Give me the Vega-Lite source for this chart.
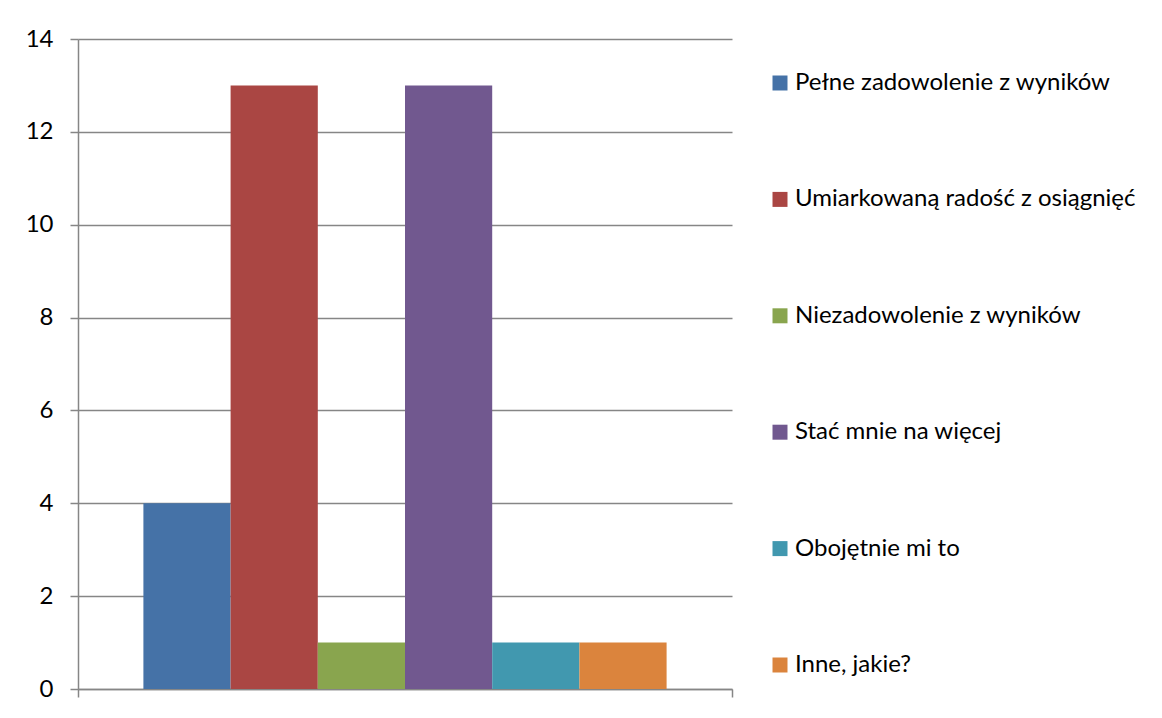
{
  "$schema": "https://vega.github.io/schema/vega-lite/v6.json",
  "autosize": {"type": "none"},
  "width": 654,
  "height": 650,
  "padding": {"left": 78, "top": 39, "right": 430, "bottom": 29},
  "background": "white",
  "config": {
    "view": {"stroke": null},
    "font": "Lato",
    "axis": {"labelFont": "Lato", "labelColor": "#000000"}
  },
  "data": {
    "values": [
      {"cat": "A", "series": "Pełne zadowolenie z wyników", "value": 4},
      {"cat": "A", "series": "Umiarkowaną radość z osiągnięć", "value": 13},
      {"cat": "A", "series": "Niezadowolenie z wyników", "value": 1},
      {"cat": "A", "series": "Stać mnie na więcej", "value": 13},
      {"cat": "A", "series": "Obojętnie mi to", "value": 1},
      {"cat": "A", "series": "Inne, jakie?", "value": 1}
    ]
  },
  "mark": {"type": "bar"},
  "encoding": {
    "x": {
      "field": "cat",
      "type": "nominal",
      "scale": {"paddingInner": 0, "paddingOuter": 0},
      "axis": {
        "title": null,
        "labels": false,
        "tickBand": "extent",
        "domainColor": "#868686",
        "domainWidth": 1.5,
        "tickColor": "#868686",
        "tickWidth": 1.5,
        "tickSize": 8
      }
    },
    "xOffset": {
      "field": "series",
      "type": "nominal",
      "sort": null,
      "scale": {"paddingInner": 0, "paddingOuter": 0.75}
    },
    "y": {
      "field": "value",
      "type": "quantitative",
      "scale": {"domain": [0, 14], "nice": false},
      "axis": {
        "title": null,
        "values": [0, 2, 4, 6, 8, 10, 12, 14],
        "grid": true,
        "gridColor": "#868686",
        "gridWidth": 1.5,
        "domainColor": "#868686",
        "domainWidth": 1.5,
        "tickColor": "#868686",
        "tickWidth": 1.5,
        "tickSize": 8,
        "labelFontSize": 24,
        "labelPadding": 17
      }
    },
    "color": {
      "field": "series",
      "type": "nominal",
      "sort": null,
      "scale": {
        "domain": ["Pełne zadowolenie z wyników", "Umiarkowaną radość z osiągnięć", "Niezadowolenie z wyników", "Stać mnie na więcej", "Obojętnie mi to", "Inne, jakie?"],
        "range": ["#4572A7", "#AA4643", "#89A54E", "#71588F", "#4198AF", "#DB843D"]
      },
      "legend": {
        "title": null,
        "orient": "none",
        "legendX": 690,
        "legendY": 32,
        "padding": 0,
        "symbolType": "square",
        "symbolSize": 225,
        "symbolStrokeWidth": 0,
        "symbolOpacity": 1,
        "labelFontSize": 24,
        "labelFont": "Lato",
        "labelColor": "#000000",
        "labelOffset": 3,
        "labelLimit": 400,
        "rowPadding": 92.4
      }
    }
  }
}
